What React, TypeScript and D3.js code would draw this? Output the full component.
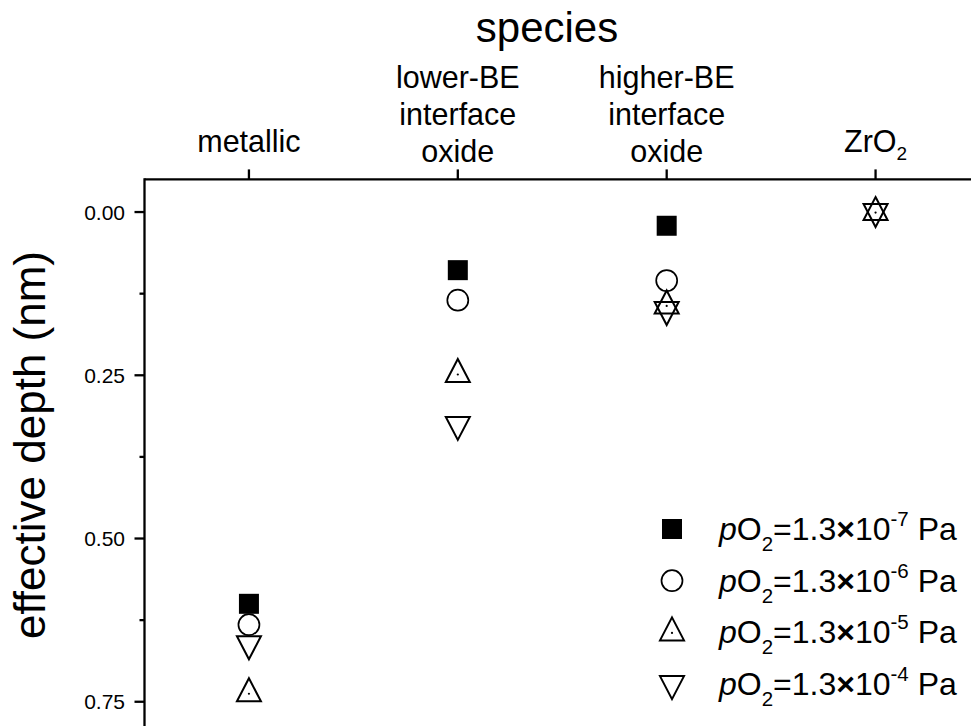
import React from "react";
import * as d3 from "d3";

// Species along the top axis (line breaks as drawn)
const categories: string[][] = [
  ["metallic"],
  ["lower-BE", "interface", "oxide"],
  ["higher-BE", "interface", "oxide"],
  ["ZrO"],
];

// Effective depth (nm) per species for each oxygen partial pressure
const depthP7: (number | null)[] = [0.6, 0.089, 0.021, null];
const depthP6: (number | null)[] = [0.632, 0.135, 0.105, null];
const depthP5: (number | null)[] = [0.737, 0.248, 0.143, 0.0];
const depthP4: (number | null)[] = [0.662, 0.326, 0.15, 0.0];

const exponents: string[] = ["-7", "-6", "-5", "-4"];
const yMajorTicks: number[] = [0, 0.25, 0.5, 0.75];
const yMinorTicks: number[] = [0.125, 0.375, 0.625];

type Shape = "square" | "circle" | "up" | "down";

const series: { values: (number | null)[]; shape: Shape; exp: string }[] = [
  { values: depthP7, shape: "square", exp: exponents[0] },
  { values: depthP6, shape: "circle", exp: exponents[1] },
  { values: depthP5, shape: "up", exp: exponents[2] },
  { values: depthP4, shape: "down", exp: exponents[3] },
];

const W = 971;
const H = 726;
const FONT = "'Liberation Sans', Arial, Helvetica, sans-serif";

const x = d3.scaleLinear().domain([0.5, 4.5]).range([144.5, 980]);
const y = d3.scaleLinear().domain([-0.05, 0.8]).range([179.4, 734.4]);

function Marker({ shape, cx, cy }: { shape: Shape; cx: number; cy: number }) {
  if (shape === "square") {
    return <rect x={cx - 10} y={cy - 10} width={20} height={20} fill="#000" />;
  }
  if (shape === "circle") {
    return <circle cx={cx} cy={cy} r={10.5} fill="none" stroke="#000" strokeWidth={1.7} />;
  }
  const tri =
    d3.line()(
      shape === "up"
        ? [
            [cx, cy - 15],
            [cx + 12, cy + 8],
            [cx - 12, cy + 8],
          ]
        : [
            [cx, cy + 15],
            [cx + 12, cy - 8],
            [cx - 12, cy - 8],
          ]
    ) + "Z";
  return (
    <g>
      <path d={tri} fill="none" stroke="#000" strokeWidth={2} strokeLinejoin="miter" />
      {shape === "up" && <circle cx={cx} cy={cy + 0.5} r={1.1} fill="#000" />}
    </g>
  );
}

export default function App() {
  const axisY = y(-0.05);
  const axisX = x(0.5);
  const lineH = 37;

  return (
    <div style={{ position: "fixed", left: 0, top: 0 }}>
      <svg width={W} height={H} style={{ display: "block", background: "#fff" }} fontFamily={FONT}>
        {/* frame: top and left axes */}
        <line x1={axisX} x2={W + 10} y1={axisY} y2={axisY} stroke="#000" strokeWidth={2.3} />
        <line x1={axisX} x2={axisX} y1={axisY - 1.1} y2={H + 10} stroke="#000" strokeWidth={2.3} />

        {/* top category ticks and labels */}
        {categories.map((lines, i) => {
          const cx = x(i + 1);
          const bottomBase = lines.length > 1 ? 162 : 152;
          return (
            <g key={i}>
              <line x1={cx} x2={cx} y1={axisY} y2={axisY - 10} stroke="#000" strokeWidth={2.3} />
              <text x={cx} textAnchor="middle" fontSize={30.5} fill="#000">
                {lines.map((t, j) => (
                  <tspan key={j} x={cx} y={bottomBase - (lines.length - 1 - j) * lineH}>
                    {t}
                    {t === "ZrO" && (
                      <tspan fontSize={19} dy={8}>
                        2
                      </tspan>
                    )}
                  </tspan>
                ))}
              </text>
            </g>
          );
        })}
        <text x={547} y={42} textAnchor="middle" fontSize={42} fill="#000">
          species
        </text>

        {/* left depth axis */}
        {yMajorTicks.map((v) => (
          <g key={v}>
            <line x1={axisX} x2={axisX - 10} y1={y(v)} y2={y(v)} stroke="#000" strokeWidth={2.3} />
            <text x={125} y={y(v)} dy="0.36em" textAnchor="end" fontSize={21} fill="#000">
              {d3.format(".2f")(v)}
            </text>
          </g>
        ))}
        {yMinorTicks.map((v) => (
          <line key={v} x1={axisX} x2={axisX - 5} y1={y(v)} y2={y(v)} stroke="#000" strokeWidth={2.3} />
        ))}
        <text
          transform={`translate(45, ${445}) rotate(-90)`}
          textAnchor="middle"
          fontSize={44}
          fill="#000"
        >
          effective depth (nm)
        </text>

        {/* data points */}
        {series.map((s, si) => (
          <g key={si}>
            {s.values.map((v, i) =>
              v === null ? null : <Marker key={i} shape={s.shape} cx={x(i + 1)} cy={y(v)} />
            )}
          </g>
        ))}

        {/* legend */}
        {series.map((s, si) => {
          const base = 540 + si * 51.7;
          return (
            <g key={si}>
              <Marker shape={s.shape} cx={672} cy={base - 11} />
              <text x={719} y={base} fontSize={32} fill="#000">
                <tspan fontStyle="italic">p</tspan>
                <tspan>O</tspan>
                <tspan fontSize={20.5} dy={11}>
                  2
                </tspan>
                <tspan dy={-11}>=1.3</tspan>
                <tspan fontWeight="bold">×</tspan>
                <tspan>10</tspan>
                <tspan fontSize={20.5} dy={-14}>
                  {s.exp}
                </tspan>
                <tspan dy={14}> Pa</tspan>
              </text>
            </g>
          );
        })}
      </svg>
    </div>
  );
}
